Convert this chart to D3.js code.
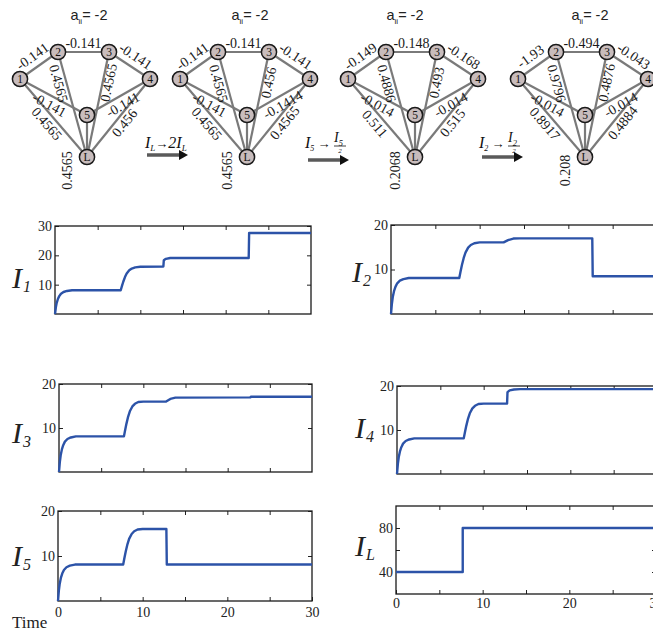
<!DOCTYPE html>
<html><head><meta charset="utf-8">
<script src="https://cdn.jsdelivr.net/npm/d3@7"></script>
<style>body{margin:0;background:#fff} svg{display:block}</style>
</head><body>
<svg id="chart" width="653" height="639"></svg>
<script>
// ---------------- data ----------------
const xTickLabels = [0, 10, 20, 30];
const xTickMarks = [5, 10, 15, 20, 25];

const seriesI1 = [[0,0],[0.1,2.3],[0.2,3.8],[0.35,5.2],[0.5,6.1],[0.7,6.9],[1,7.5],[1.4,7.85],[2,8.1],[7.7,8.1],[7.85,9.6],[8,11],[8.2,12.6],[8.4,13.8],[8.7,14.9],[9,15.5],[9.4,15.9],[10,16.1],[12.7,16.2],[12.75,18.3],[13,18.8],[13.5,19.1],[22.7,19.1],[22.75,27.6],[30,27.6]];
const seriesI2 = [[0,0],[0.1,2.3],[0.2,3.8],[0.35,5.2],[0.5,6.1],[0.7,6.9],[1,7.5],[1.4,7.85],[2,8.1],[7.7,8.1],[7.85,9.6],[8,11],[8.2,12.6],[8.4,13.8],[8.7,14.9],[9,15.5],[9.4,15.9],[10,16.1],[12.7,16.1],[13.2,16.6],[13.8,16.95],[14.5,17],[22.7,17],[22.75,8.5],[30,8.5]];
const seriesI3 = [[0,0],[0.1,2.3],[0.2,3.8],[0.35,5.2],[0.5,6.1],[0.7,6.9],[1,7.5],[1.4,7.85],[2,8.1],[7.7,8.1],[7.85,9.6],[8,11],[8.2,12.6],[8.4,13.8],[8.7,14.9],[9,15.5],[9.4,15.9],[10,16],[12.7,16],[13.2,16.6],[13.8,16.9],[22.7,16.95],[22.75,17.1],[30,17.1]];
const seriesI4 = [[0,0],[0.1,2.3],[0.2,3.8],[0.35,5.2],[0.5,6.1],[0.7,6.9],[1,7.5],[1.4,7.85],[2,8.1],[7.7,8.1],[7.85,9.6],[8,11],[8.2,12.6],[8.4,13.8],[8.7,14.9],[9,15.5],[9.4,15.9],[10,16],[12.7,16],[12.75,18.6],[13,19],[13.5,19.2],[14.2,19.3],[30,19.3]];
const seriesI5 = [[0,0],[0.1,2.3],[0.2,3.8],[0.35,5.2],[0.5,6.1],[0.7,6.9],[1,7.5],[1.4,7.85],[2,8.1],[7.7,8.1],[7.85,9.6],[8,11],[8.2,12.6],[8.4,13.8],[8.7,14.9],[9,15.5],[9.4,15.9],[10,16],[12.8,16],[12.85,8.1],[30,8.1]];
const seriesIL = [[0,40],[7.7,40],[7.7,80],[30,80]];

const yTicksI1 = [10, 20, 30];
const yTicksI = [10, 20];
const yTicksIL = [40, 60, 80];
const yLabelsIL = [40, 80];

// network diagrams
const nodeIds = ["1","2","3","4","5","L"];
const edgeList = [["1","2"],["2","3"],["3","4"],["2","L"],["3","L"],["1","5"],["5","4"],["1","L"],["4","L"],["5","L"]];
const weightsNet1 = ["-0.141","-0.141","-0.141","0.4565","0.4565","-0.141","-0.141","0.4565","0.456","0.4565"];
const weightsNet2 = ["-0.141","-0.141","-0.141","0.4565","0.456","-0.141","-0.1414","0.4565","0.4565","0.4565"];
const weightsNet3 = ["-0.149","-0.148","-0.168","0.4886","0.493","-0.014","-0.014","0.511","0.515","0.2068"];
const weightsNet4 = ["-1.93","-0.494","-0.043","0.9796","0.4876","-0.014","-0.014","0.8917","0.4884","0.208"];
const netTitle = "= -2";

// ---------------- layout ----------------
const svg = d3.select("#chart");
const serif = "'Liberation Serif','Times New Roman',serif";
const sans = "'Liberation Sans',Arial,sans-serif";
const lineColor = "#2c53a8";

const netCenters = [87, 247, 415, 585];
const titleCenters = [89, 250, 405, 590];
const nodeDX = [-67, -29, 22, 63, 0, 0];
const nodeY = [79, 52, 52, 79, 115, 157];
const labelT = [0.5, 0.5, 0.5, 0.28, 0.28, 0.5, 0.5, 0.5, 0.5, 1.32];
const labelOff = [11, 9, 11, -8, 6, -9, -9, -9, 8, -20];

function drawNet(i, weights) {
  const cx = netCenters[i];
  const pos = {};
  nodeIds.forEach((id, k) => pos[id] = [cx + nodeDX[k], nodeY[k]]);
  const g = svg.append("g");
  g.selectAll("line.edge").data(edgeList).join("line")
    .attr("x1", d => pos[d[0]][0]).attr("y1", d => pos[d[0]][1])
    .attr("x2", d => pos[d[1]][0]).attr("y2", d => pos[d[1]][1])
    .attr("stroke", "#7a7a7a").attr("stroke-width", 2.2);
  weights.forEach((w, k) => {
    const p = pos[edgeList[k][0]], q = pos[edgeList[k][1]];
    const dx = q[0] - p[0], dy = q[1] - p[1];
    const len = Math.hypot(dx, dy);
    const nx = dy / len, ny = -dx / len;
    const x = p[0] + labelT[k] * dx + labelOff[k] * nx;
    const y = p[1] + labelT[k] * dy + labelOff[k] * ny;
    let a = Math.atan2(dy, dx) * 180 / Math.PI;
    if (a > 89.9) a -= 180;
    if (a < -90) a += 180;
    g.append("text").attr("transform", `translate(${x},${y}) rotate(${a})`)
      .attr("text-anchor", "middle").attr("dominant-baseline", "central")
      .style("font-family", serif).attr("font-size", 14).attr("fill", "#1a1a1a")
      .text(w);
  });
  const ng = g.selectAll("g.node").data(nodeIds).join("g")
    .attr("transform", d => `translate(${pos[d][0]},${pos[d][1]})`);
  ng.append("circle").attr("r", 7.6).attr("fill", "#c8bcbc").attr("stroke", "#1a1a1a").attr("stroke-width", 1.5);
  ng.append("text").attr("text-anchor", "middle").attr("dominant-baseline", "central")
    .style("font-family", serif).attr("font-size", 11.5).attr("fill", "#111").text(d => d);
  const t = g.append("text").attr("x", titleCenters[i]).attr("y", 20).attr("text-anchor", "middle")
    .style("font-family", sans).attr("font-size", 14.5).attr("fill", "#222");
  t.append("tspan").text("a");
  t.append("tspan").attr("font-size", 8).attr("dy", 4).text("ii");
  t.append("tspan").attr("dy", -4).text(netTitle);
}
[weightsNet1, weightsNet2, weightsNet3, weightsNet4].forEach((w, i) => drawNet(i, w));

// arrows between diagrams
function arrow(x0, x1, y) {
  svg.append("line").attr("x1", x0).attr("x2", x1 - 6).attr("y1", y).attr("y2", y)
    .attr("stroke", "#5a5a5a").attr("stroke-width", 3.5);
  svg.append("path").attr("d", `M${x1 - 9},${y - 5}L${x1},${y}L${x1 - 9},${y + 5}Z`).attr("fill", "#111");
}
function italicSub(g, x, y, main, sub, size) {
  const t = g.append("text").attr("x", x).attr("y", y).style("font-family", serif)
    .attr("font-style", "italic").attr("font-size", size).attr("fill", "#111");
  t.append("tspan").text(main);
  t.append("tspan").attr("font-size", size * 0.6).attr("dy", size * 0.25).text(sub);
  return t;
}
// A1: I_L -> 2 I_L
{
  const t = svg.append("text").attr("x", 145).attr("y", 148).style("font-family", serif)
    .attr("font-style", "italic").attr("font-size", 16).attr("fill", "#111");
  t.append("tspan").text("I");
  t.append("tspan").attr("font-size", 9).attr("dy", 3).text("L");
  t.append("tspan").attr("dy", -3).attr("font-style", "normal").attr("font-size", 13).text("\u2192");
  t.append("tspan").text("2I");
  t.append("tspan").attr("font-size", 9).attr("dy", 3).text("L");
  arrow(147, 188, 155);
}
function fracArrow(x, y, sub, ay) {
  const t = svg.append("text").attr("x", x).attr("y", y).style("font-family", serif)
    .attr("font-style", "italic").attr("font-size", 16).attr("fill", "#111");
  t.append("tspan").text("I");
  t.append("tspan").attr("font-size", 8).attr("dy", 3).text(sub);
  t.append("tspan").attr("dy", -3).attr("font-style", "normal").attr("font-size", 13).text(" \u2192");
  italicSub(svg, x + 29, y - 6, "I", sub, 14);
  svg.append("line").attr("x1", x + 29).attr("x2", x + 41).attr("y1", y - 2).attr("y2", y - 2)
    .attr("stroke", "#111").attr("stroke-width", 0.8);
  svg.append("text").attr("x", x + 35).attr("y", y + 5).attr("text-anchor", "middle")
    .style("font-family", serif).attr("font-style", "italic").attr("font-size", 7).attr("fill", "#111").text("2");
  arrow(x + 3, x + 44, ay);
}
fracArrow(305, 148, "5", 160);
fracArrow(479, 148, "2", 157);

// ---------------- time plots ----------------
const panels = [
  {series: seriesI1, sub: "1", box: [55, 311, 226, 314], yDomain: [0, 30], yTicks: yTicksI1, yLabels: yTicksI1, lab: [12, 288], showX: false},
  {series: seriesI2, sub: "2", box: [391, 657, 225, 314], yDomain: [0, 20], yTicks: yTicksI, yLabels: yTicksI, lab: [352, 282], showX: false},
  {series: seriesI3, sub: "3", box: [59, 312, 384, 472], yDomain: [0, 20], yTicks: yTicksI, yLabels: yTicksI, lab: [12, 443], showX: false},
  {series: seriesI4, sub: "4", box: [397, 657, 386, 474], yDomain: [0, 20], yTicks: yTicksI, yLabels: yTicksI, lab: [355, 438], showX: false},
  {series: seriesI5, sub: "5", box: [58, 312, 511, 601], yDomain: [0, 20], yTicks: yTicksI, yLabels: yTicksI, lab: [12, 566], showX: true, pad: 6},
  {series: seriesIL, sub: "L", box: [396, 656, 506, 594], yDomain: [20, 100], yTicks: yTicksIL, yLabels: yLabelsIL, lab: [355, 556], showX: true, pad: 4}
];

panels.forEach(p => {
  const [x0, x1, yT, yB] = p.box;
  const x = d3.scaleLinear().domain([0, 30]).range([x0, x1]);
  const y = d3.scaleLinear().domain(p.yDomain).range([yB, yT]);
  const g = svg.append("g");
  const style = sel => {
    sel.attr("font-family", null).attr("font-size", null);
    sel.select(".domain").remove();
    sel.selectAll("line").attr("stroke", "#222").attr("stroke-width", 1);
    sel.selectAll("text").style("font-family", serif).style("font-size", "14px").attr("fill", "#222");
  };
  g.append("g").attr("transform", `translate(0,${yB})`)
    .call(d3.axisBottom(x).tickValues(p.showX ? [0, 5, 10, 15, 20, 25, 30] : xTickMarks).tickSize(-4).tickPadding(p.pad || 4)
      .tickFormat(d => p.showX && xTickLabels.includes(d) ? d : ""))
    .call(style);
  g.append("g").attr("transform", `translate(0,${yT})`)
    .call(d3.axisTop(x).tickValues(xTickMarks).tickSize(-4).tickFormat(""))
    .call(style);
  g.append("g").attr("transform", `translate(${x0},0)`)
    .call(d3.axisLeft(y).tickValues(p.yTicks).tickSize(-4).tickPadding(3)
      .tickFormat(d => p.yLabels.includes(d) ? d : ""))
    .call(style);
  g.append("g").attr("transform", `translate(${x1},0)`)
    .call(d3.axisRight(y).tickValues(p.yTicks).tickSize(-4).tickFormat(""))
    .call(style);
  g.append("rect").attr("x", x0).attr("y", yT).attr("width", x1 - x0).attr("height", yB - yT)
    .attr("fill", "none").attr("stroke", "#1a1a1a").attr("stroke-width", 1.3);
  g.append("path").datum(p.series)
    .attr("d", d3.line().x(d => x(d[0])).y(d => y(d[1])))
    .attr("fill", "none").attr("stroke", lineColor).attr("stroke-width", 2.4).attr("stroke-linejoin", "round");
  const t = svg.append("text").attr("x", p.lab[0]).attr("y", p.lab[1]).style("font-family", serif)
    .attr("font-style", "italic").attr("font-size", 30).attr("fill", "#222");
  t.append("tspan").text("I");
  t.append("tspan").attr("font-size", 16).attr("dy", 4).attr("dx", 1).text(p.sub);
});

svg.append("text").attr("x", 12).attr("y", 628).style("font-family", serif).attr("font-size", 17)
  .attr("fill", "#222").text("Time");
</script>
</body></html>
